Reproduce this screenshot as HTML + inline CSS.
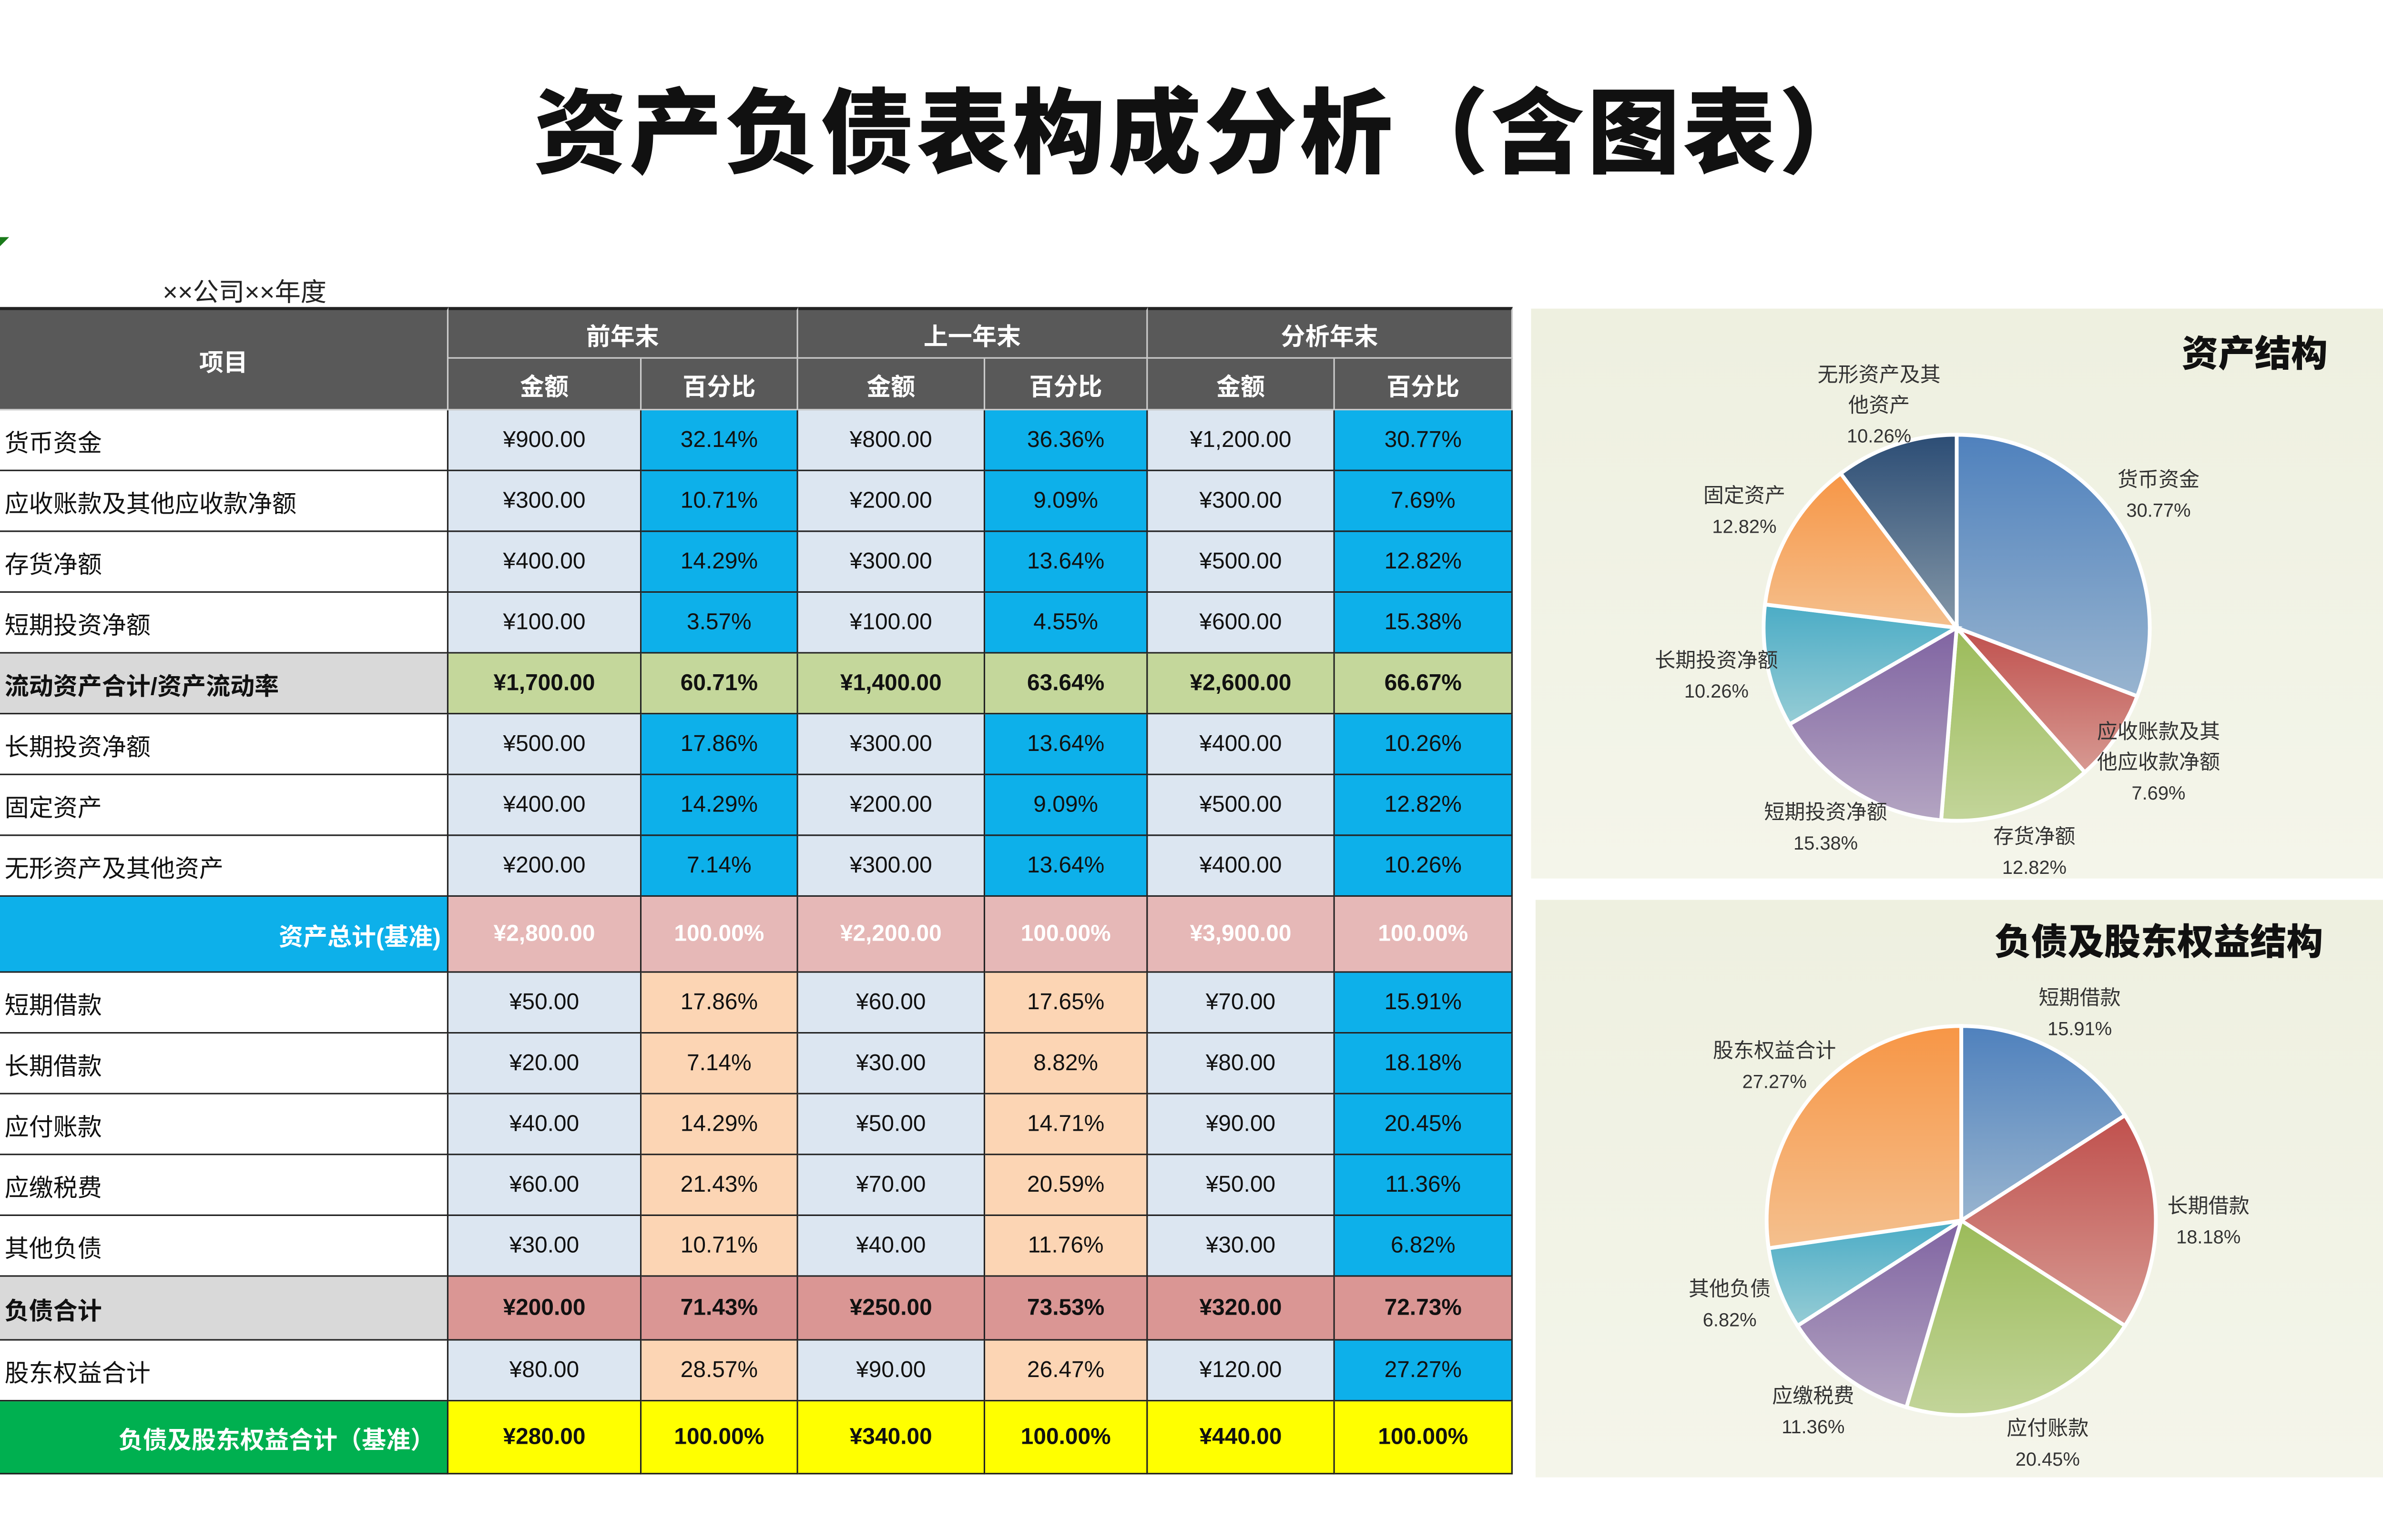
<!DOCTYPE html>
<html><head><meta charset="utf-8">
<style>
html,body{margin:0;padding:0;background:#fff;width:5216px;height:3232px;overflow:hidden}
#root{position:absolute;left:0;top:0;width:1568px;height:972px;transform-origin:0 0;transform:scale(3.19,3.19);font-family:"Liberation Sans","Noto Sans CJK SC",sans-serif}
.title{position:absolute;left:0;width:1584px;top:38px;text-align:center;font-size:61px;font-weight:900;color:#111;letter-spacing:2px}
.sub{position:absolute;left:107px;top:178px;font-size:17px;color:#222}
.c{position:absolute;box-sizing:border-box;display:flex;align-items:center;justify-content:center;font-size:15px;color:#111;border-right:1.5px solid #222;border-bottom:1.5px solid #222}
.panel{position:absolute}
</style></head><body>
<div id="root">
<div class="title">资产负债表构成分析（含图表）</div>
<div style="position:absolute;left:0;top:156px;width:0;height:0;border-left:6px solid #1a7a1a;border-bottom:6px solid transparent"></div>
<div class="sub">××公司××年度</div>
<div id="table"></div>
<svg id="pie1" class="panel" style="left:1007px;top:203px" width="561" height="375"></svg>
<svg id="pie2" class="panel" style="left:1010px;top:592px" width="558" height="380"></svg>
</div>
<script>
const rowLabels=["货币资金","应收账款及其他应收款净额","存货净额","短期投资净额","流动资产合计/资产流动率","长期投资净额","固定资产","无形资产及其他资产","资产总计(基准)","短期借款","长期借款","应付账款","应缴税费","其他负债","负债合计","股东权益合计","负债及股东权益合计（基准）"];
const amtY1=["¥900.00","¥300.00","¥400.00","¥100.00","¥1,700.00","¥500.00","¥400.00","¥200.00","¥2,800.00","¥50.00","¥20.00","¥40.00","¥60.00","¥30.00","¥200.00","¥80.00","¥280.00"];
const pctY1=["32.14%","10.71%","14.29%","3.57%","60.71%","17.86%","14.29%","7.14%","100.00%","17.86%","7.14%","14.29%","21.43%","10.71%","71.43%","28.57%","100.00%"];
const amtY2=["¥800.00","¥200.00","¥300.00","¥100.00","¥1,400.00","¥300.00","¥200.00","¥300.00","¥2,200.00","¥60.00","¥30.00","¥50.00","¥70.00","¥40.00","¥250.00","¥90.00","¥340.00"];
const pctY2=["36.36%","9.09%","13.64%","4.55%","63.64%","13.64%","9.09%","13.64%","100.00%","17.65%","8.82%","14.71%","20.59%","11.76%","73.53%","26.47%","100.00%"];
const amtY3=["¥1,200.00","¥300.00","¥500.00","¥600.00","¥2,600.00","¥400.00","¥500.00","¥400.00","¥3,900.00","¥70.00","¥80.00","¥90.00","¥50.00","¥30.00","¥320.00","¥120.00","¥440.00"];
const pctY3=["30.77%","7.69%","12.82%","15.38%","66.67%","10.26%","12.82%","10.26%","100.00%","15.91%","18.18%","20.45%","11.36%","6.82%","72.73%","27.27%","100.00%"];
const assetCats=["货币资金","应收账款及其他应收款净额","存货净额","短期投资净额","长期投资净额","固定资产","无形资产及其他资产"];
const assetVals=[1200,300,500,600,400,500,400];
const liabCats=["短期借款","长期借款","应付账款","应缴税费","其他负债","股东权益合计"];
const liabVals=[70,80,90,50,30,120];

const T=document.getElementById('table');
const colX=[0,295,422,525,648,755,878,995];
const rowH=[40,40,40,40,40,40,40,40,50,40,40,40,40,40,42,40,48];
function cell(x,y,w,h,txt,bg,style,name){
  const d=document.createElement('div');d.className='c';
  d.style.cssText=`left:${x}px;top:${y}px;width:${w}px;height:${h}px;background:${bg};${style||''}`;
  d.textContent=txt;
  
  
  T.appendChild(d);
}
const hs='color:#fff;font-weight:bold;font-size:16px;border-color:#ccc;';
cell(0,202,295,68,'项目','#595959',hs+'border-top:2px solid #222;border-right:1.5px solid #ccc','header-item');
[['前年末',1],['上一年末',3],['分析年末',5]].forEach(([t,i])=>{
  cell(colX[i],202,colX[i+2]-colX[i],34,t,'#595959',hs+'border-top:2px solid #222','header-year');
  cell(colX[i],236,colX[i+1]-colX[i],34,'金额','#595959',hs,'header-amount');
  cell(colX[i+1],236,colX[i+2]-colX[i+1],34,'百分比','#595959',hs,'header-percent');
});
let y=270;
const amts=[amtY1,amtY2,amtY3],pcts=[pctY1,pctY2,pctY3];
rowLabels.forEach((lab,r)=>{
  const h=rowH[r];
  let lbg='#fff',lst='justify-content:flex-start;padding-left:3px;font-size:16px;',abg='#dce6f1',pbg=['#0db0ea','#0db0ea','#0db0ea'],cst='';
  if(r===4){lbg='#d9d9d9';lst+='font-weight:bold;';abg='#c4d79b';pbg=['#c4d79b','#c4d79b','#c4d79b'];cst='font-weight:bold;';}
  else if(r===8){lbg='#0db0ea';lst='justify-content:flex-end;padding-right:4px;color:#fff;font-weight:bold;font-size:16px;';abg='#e6b8b7';pbg=['#e6b8b7','#e6b8b7','#e6b8b7'];cst='color:#fff;font-weight:bold;';}
  else if(r===14){lbg='#d9d9d9';lst+='font-weight:bold;';abg='#da9694';pbg=['#da9694','#da9694','#da9694'];cst='font-weight:bold;';}
  else if(r===16){lbg='#00b050';lst='justify-content:flex-end;padding-right:8px;color:#fff;font-weight:bold;font-size:16px;';abg='#ffff00';pbg=['#ffff00','#ffff00','#ffff00'];cst='font-weight:bold;';}
  else if(r>8){pbg=['#fcd5b4','#fcd5b4','#0db0ea'];}
  cell(0,y,295,h,lab,lbg,lst,'row-label');
  for(let k=0;k<3;k++){
    cell(colX[1+2*k],y,colX[2+2*k]-colX[1+2*k],h,amts[k][r],abg,cst,'amount-cell');
    cell(colX[2+2*k],y,colX[3+2*k]-colX[2+2*k],h,pcts[k][r],pbg[k],cst,'percent-cell');
  }
  y+=h;
});

const NS='http://www.w3.org/2000/svg';
const cols=['#4f81bd','#c0504d','#9bbb59','#8064a2','#4bacc6','#f79646','#2c4d75'];
function pie(svgId,cats,vals,cx,cy,R,title,tx,ty,lblR){
  const s=document.getElementById(svgId);
  let defs=document.createElementNS(NS,'defs');
  let html='<linearGradient id="'+svgId+'bg" x1="0" y1="0" x2="0" y2="1"><stop offset="0" stop-color="#eef0e0"/><stop offset="1" stop-color="#f4f5ea"/></linearGradient>';
  cols.forEach((c,i)=>{html+=`<linearGradient id="${svgId}g${i}" x1="0" y1="0" x2="0" y2="1"><stop offset="0" stop-color="${c}"/><stop offset="1" stop-color="${c}" stop-opacity="0.55"/></linearGradient>`;});
  defs.innerHTML=html;s.appendChild(defs);
  const bg=document.createElementNS(NS,'rect');
  bg.setAttribute('width','100%');bg.setAttribute('height','100%');bg.setAttribute('fill',`url(#${svgId}bg)`);
  
  
  s.appendChild(bg);
  const t=document.createElementNS(NS,'text');
  t.setAttribute('x',tx);t.setAttribute('y',ty);t.setAttribute('font-size','24');t.setAttribute('font-weight','900');t.setAttribute('fill','#111');
  t.textContent=title;
  
  
  s.appendChild(t);
  const tot=vals.reduce((a,b)=>a+b,0);
  let a0=0;
  vals.forEach((v,i)=>{
    const a1=a0+v/tot*2*Math.PI;
    const p=(a)=>[cx+R*Math.sin(a),cy-R*Math.cos(a)];
    const [x0,y0]=p(a0),[x1,y1]=p(a1);
    const path=document.createElementNS(NS,'path');
    path.setAttribute('d',`M${cx},${cy}L${x0},${y0}A${R},${R} 0 ${a1-a0>Math.PI?1:0} 1 ${x1},${y1}Z`);
    path.setAttribute('fill',`url(#${svgId}g${i})`);path.setAttribute('stroke','#fff');path.setAttribute('stroke-width','2.5');
    
    
    s.appendChild(path);
    const m=(a0+a1)/2,lx=cx+lblR*R*Math.sin(m),ly=cy-lblR*R*Math.cos(m)*0.96;
    const txt=document.createElementNS(NS,'text');
    txt.setAttribute('text-anchor','middle');txt.setAttribute('font-size','13.5');txt.setAttribute('fill','#333');
    let name=cats[i],lines=name.length>6?[name.slice(0,6),name.slice(6)]:[name];
    lines.push((v/tot*100).toFixed(2)+'%');
    const y0l=ly-(lines.length-1)*10+5;
    lines.forEach((ln,j)=>{const ts=document.createElementNS(NS,'tspan');ts.setAttribute('x',lx);ts.setAttribute('y',y0l+j*20);if(j===lines.length-1)ts.setAttribute('font-size','12.5');ts.textContent=ln;txt.appendChild(ts);});
    
    
    s.appendChild(txt);
    a0=a1;
  });
}
pie('pie1',assetCats,assetVals,280,210,127,'资产结构',428,38,1.27);
pie('pie2',liabCats,liabVals,280,211,128,'负债及股东权益结构',302,36,1.27);
</script>
</body></html>
